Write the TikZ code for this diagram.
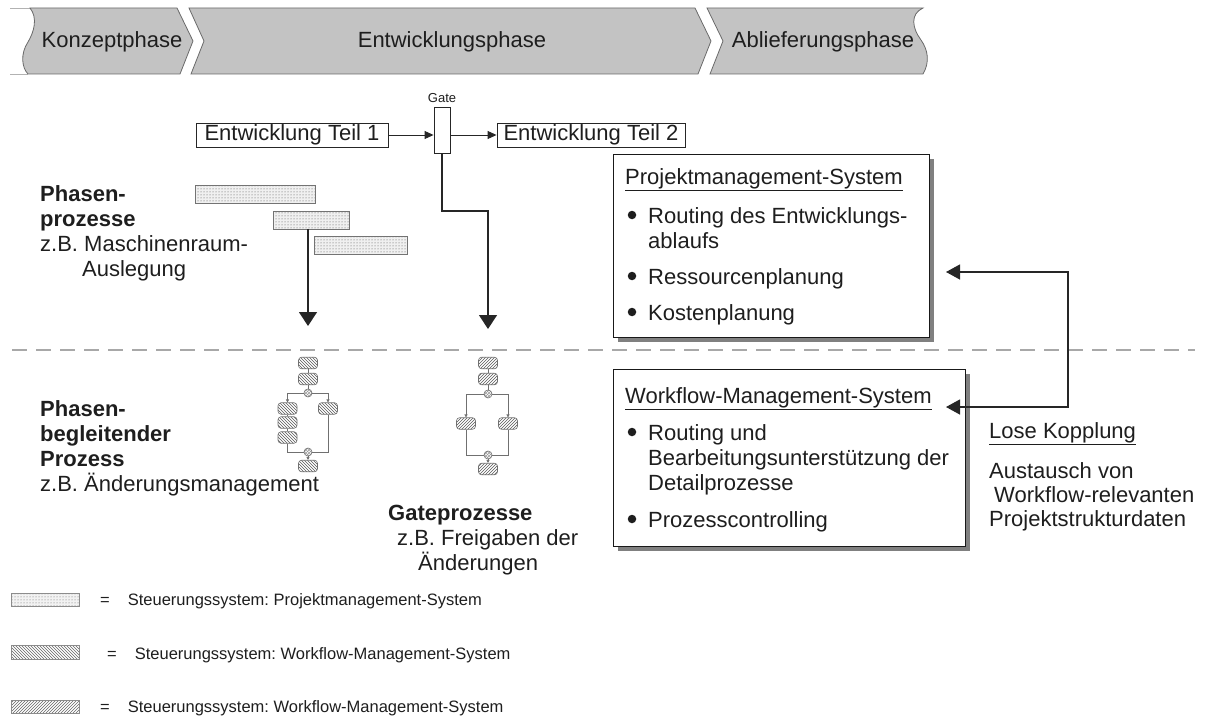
\documentclass[tikz,border=0pt]{standalone}
\usepackage{fontspec}
\setmainfont{Liberation Sans}
\usetikzlibrary{arrows.meta,patterns,shadows}
\definecolor{bannerfill}{HTML}{C3C3C3}
\definecolor{bannerline}{HTML}{6A6A6A}
\definecolor{dashgray}{HTML}{A8A8A8}
\definecolor{txt}{HTML}{1E1E1E}
\definecolor{netgray}{HTML}{707070}
\frenchspacing
\tikzset{
  bigtip/.tip={Triangle[width=18pt,length=14pt]},
  midtip/.tip={Triangle[width=15pt,length=14pt]},
  smalltip/.tip={Triangle[width=8pt,length=9pt]},
  tinytip/.tip={Triangle[width=3pt,length=3pt]},
  big/.style={font=\fontsize{22}{25}\selectfont, text=txt, inner sep=0pt},
  bigb/.style={font=\fontsize{22}{25}\selectfont\bfseries, text=txt, inner sep=0pt},
  small/.style={font=\fontsize{13}{15}\selectfont, text=txt, inner sep=0pt},
  leg/.style={font=\fontsize{16.5}{19}\selectfont, text=txt, inner sep=0pt},
  bul/.style={circle, fill=txt, minimum size=8.5pt, inner sep=0pt},
  tbox/.style={draw=black!85, line width=0.9pt, fill=white, font=\fontsize{22}{25}\selectfont, text=txt, inner sep=0pt},
  sysbox/.style={draw=black!90, line width=1.4pt, fill=white, inner sep=0pt,
    drop shadow={shadow xshift=4pt, shadow yshift=-4pt, fill=black!50, opacity=1}},
  bar/.style={draw=black!55, line width=0.8pt, inner sep=0pt, minimum height=18pt,
    preaction={fill=black!6}, pattern=dots, pattern color=black!70},
  conn/.style={draw=black!85, line width=1.3pt},
  netline/.style={draw=netgray, line width=0.6pt},
  nwbox/.style={draw=netgray, line width=0.6pt, rounded corners=3pt, minimum width=19pt, minimum height=11.5pt, inner sep=0pt,
    preaction={fill=white}, pattern=north west lines, pattern color=black!65},
  nebox/.style={draw=netgray, line width=0.6pt, rounded corners=3pt, minimum width=19pt, minimum height=11.5pt, inner sep=0pt,
    preaction={fill=white}, pattern=north east lines, pattern color=black!65},
  netcirc/.style={circle, draw=netgray, line width=0.6pt, minimum size=8pt, inner sep=0pt,
    preaction={fill=white}, pattern=crosshatch, pattern color=black!40},
  legbox/.style={draw=black!45, line width=0.6pt, minimum width=68pt, minimum height=13.5pt, inner sep=0pt},
}
\begin{document}
\begin{tikzpicture}[x=1pt,y=-1pt]
\useasboundingbox (0,0) rectangle (1207,717);

% ---------- phase banner ----------
\draw[black!30, line width=0.6pt] (10,8) -- (31,8) (10,74) -- (28,74);
\draw[fill=bannerfill, draw=bannerline, line width=0.8pt]
  (30,8) -- (177,8) -- (193,41) -- (180,74) -- (28,74)
  .. controls (22,68) and (20,54) .. (28,42)
  .. controls (34,32) and (38,18) .. (30,8) -- cycle;
\draw[fill=bannerfill, draw=bannerline, line width=0.8pt]
  (189,8) -- (695,8) -- (711,41) -- (698,74) -- (191,74) -- (204,41) -- cycle;
\draw[fill=bannerfill, draw=bannerline, line width=0.8pt]
  (707,8) -- (923,8)
  .. controls (910,14) and (912,28) .. (921,40)
  .. controls (928,50) and (930,62) .. (923,74)
  -- (710,74) -- (723,41) -- cycle;
\node[big, anchor=base] (kp) at (112,48) {Konzeptphase};
\node[big, anchor=base] (ep) at (452,48) {Entwicklungsphase};
\node[big, anchor=base] (ap) at (823,48) {Ablieferungsphase};

% ---------- development row ----------
\node[tbox, minimum width=192pt, minimum height=24pt] (t1) at (292,135) {Entwicklung Teil 1};
\node[tbox, minimum width=188pt, minimum height=24pt] (t2) at (591,135) {Entwicklung Teil 2};
\node[draw=black!85, line width=0.9pt, fill=white, minimum width=16pt, minimum height=46pt, inner sep=0pt] (gate) at (442,130) {};
\node[small, anchor=base] (gatelbl) at (442,102) {Gate};
\draw[conn, line width=1pt, -smalltip] (t1.east) -- (t1.east -| gate.west);
\draw[conn, line width=1pt, -smalltip] (t1.east -| gate.east) -- (t1.east -| t2.west);

% ---------- phase processes ----------
\node[bar, minimum width=120pt] (bar1) at (255,194) {};
\node[bar, minimum width=76pt] (bar2) at (311,220) {};
\node[bar, minimum width=93pt] (bar3) at (360.5,245) {};
\coordinate (tipa) at (308,326);
\draw[conn, -bigtip] (bar2.south -| tipa) -- (tipa);

\coordinate (gbend) at (442,211);
\coordinate (tipb) at (488,329);
\draw[conn, -bigtip] (gate.south) -- (gbend) -| (tipb);

\node[bigb, anchor=base west] (pp1) at (40,201) {Phasen-};
\node[bigb, anchor=base west] (pp2) at (40,226) {prozesse};
\node[big, anchor=base west] (pp3) at (40,251) {z.B. Maschinenraum-};
\node[big, anchor=base west] (pp4) at (82,276) {Auslegung};

% ---------- dashed separator ----------
\coordinate (dl) at (12,350);
\coordinate (dr) at (1195,350);
\draw[dashgray, line width=1.8pt, dash pattern=on 15pt off 9pt] (dl) -- (dr);

% ---------- Projektmanagement-System ----------
\node[sysbox, minimum width=316pt, minimum height=183pt, anchor=north west] (pms) at (613,154) {};
\node[big, anchor=base west] (pmst) at (625,184) {\underline{Projektmanagement-System}};
\node[bul] (pb1) at (632,215) {};
\node[big, anchor=base west] (pi1) at (648,223) {Routing des Entwicklungs-};
\node[big, anchor=base west] (pi1b) at (648,248) {ablaufs};
\node[bul] (pb2) at (632,276) {};
\node[big, anchor=base west] (pi2) at (648,284) {Ressourcenplanung};
\node[bul] (pb3) at (632,312) {};
\node[big, anchor=base west] (pi3) at (648,320) {Kostenplanung};

% ---------- Workflow-Management-System ----------
\node[sysbox, minimum width=352pt, minimum height=177pt, anchor=north west] (wms) at (613,369) {};
\node[big, anchor=base west] (wmst) at (625,403) {\underline{Workflow-Management-System}};
\node[bul] (wb1) at (632,432) {};
\node[big, anchor=base west] (wi1) at (648,440) {Routing und};
\node[big, anchor=base west] (wi1b) at (648,465) {Bearbeitungsunterstützung der};
\node[big, anchor=base west] (wi1c) at (648,490) {Detailprozesse};
\node[bul] (wb2) at (632,519) {};
\node[big, anchor=base west] (wi2) at (648,527) {Prozesscontrolling};

% ---------- coupling ----------
\coordinate (ptip) at (946,272);
\coordinate (kv1) at (1068,272);
\coordinate (kv2) at (1068,407);
\coordinate (wtip) at (946,407);
\draw[conn, midtip-midtip] (ptip) -- (kv1) -- (kv2) -- (wtip);
\node[big, anchor=base west] (lk) at (989,438) {\underline{Lose Kopplung}};
\node[big, anchor=base west] (lk1) at (989,478) {Austausch von};
\node[big, anchor=base west] (lk2) at (994,502) {Workflow-relevanten};
\node[big, anchor=base west] (lk3) at (989,526) {Projektstrukturdaten};

% ---------- phase-accompanying process net ----------
\node[nwbox] (la) at (308,363) {};
\node[nwbox] (lb) at (308,379) {};
\node[netcirc] (lc1) at (308,393) {};
\node[nwbox] (l1) at (287.5,408.5) {};
\node[nwbox] (l2) at (287.5,422.5) {};
\node[nwbox] (l3) at (287.5,437.5) {};
\node[nwbox] (r1) at (328,408.5) {};
\node[netcirc] (lc2) at (308,452) {};
\node[nwbox] (lbot) at (308,466) {};
\draw[netline] (la) -- (lb);
\draw[netline] (lb) -- (lc1);
\draw[netline, -tinytip] (lc1.west) -| (l1.north);
\draw[netline, -tinytip] (lc1.east) -| (r1.north);
\draw[netline] (l1) -- (l2);
\draw[netline] (l2) -- (l3);
\draw[netline] (l3.south) |- (lc2.west);
\draw[netline] (r1.south) |- (lc2.east);
\draw[netline, -tinytip] (lc2) -- (lbot);

% ---------- gate process net ----------
\node[nebox] (ga) at (488,363) {};
\node[nebox] (gb) at (488,379) {};
\node[netcirc] (gc1) at (488,394) {};
\node[nebox] (gl) at (466,423.5) {};
\node[nebox] (gr) at (508,423.5) {};
\node[netcirc] (gc2) at (488,455) {};
\node[nebox] (gbot) at (488,469) {};
\draw[netline] (ga) -- (gb);
\draw[netline] (gb) -- (gc1);
\draw[netline, -tinytip] (gc1.west) -| (gl.north);
\draw[netline, -tinytip] (gc1.east) -| (gr.north);
\draw[netline] (gl.south) |- (gc2.west);
\draw[netline] (gr.south) |- (gc2.east);
\draw[netline, -tinytip] (gc2) -- (gbot);

% ---------- lower left labels ----------
\node[bigb, anchor=base west] (bp1) at (40,416) {Phasen-};
\node[bigb, anchor=base west] (bp2) at (40,441) {begleitender};
\node[bigb, anchor=base west] (bp3) at (40,466) {Prozess};
\node[big, anchor=base west] (bp4) at (40,491) {z.B. Änderungsmanagement};

\node[bigb, anchor=base west] (gp1) at (388,520) {Gateprozesse};
\node[big, anchor=base west] (gp2) at (397,545) {z.B. Freigaben der};
\node[big, anchor=base west] (gp3) at (418,570) {Änderungen};

% ---------- legend ----------
\node[legbox, preaction={fill=black!5}, pattern=dots, pattern color=black!60] (lg1) at (45,600) {};
\node[legbox, preaction={fill=white}, pattern=north west lines, pattern color=black!60] (lg2) at (45.5,652.5) {};
\node[legbox, preaction={fill=white}, pattern=north east lines, pattern color=black!60] (lg3) at (45.5,707) {};
\node[leg, anchor=base west] (lt1) at (100,605) {=\hspace{18pt}Steuerungssystem: Projektmanagement-System};
\node[leg, anchor=base west] (lt2) at (107,659) {=\hspace{18pt}Steuerungssystem: Workflow-Management-System};
\node[leg, anchor=base west] (lt3) at (100,712) {=\hspace{18pt}Steuerungssystem: Workflow-Management-System};
\end{tikzpicture}
\end{document}
